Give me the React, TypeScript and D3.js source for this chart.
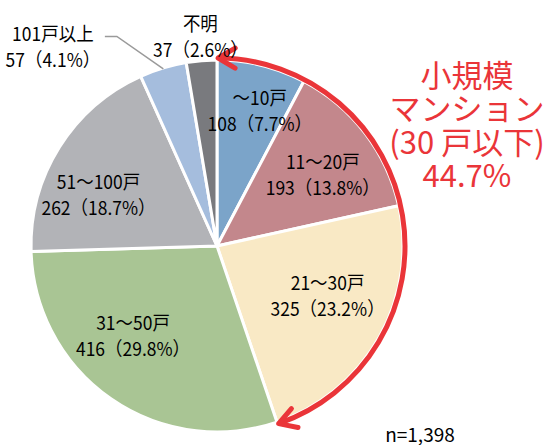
import * as d3 from "d3";
import React from "react";

// 住戸規模別の内訳 (n=1,398)
const categories = ["～10戸", "11～20戸", "21～30戸", "31～50戸", "51～100戸", "101戸以上", "不明"];
const counts = [108, 193, 325, 416, 262, 57, 37];
const shares = ["7.7", "13.8", "23.2", "29.8", "18.7", "4.1", "2.6"];
const palette = ["#7ba4c9", "#c3878c", "#f9e9c5", "#a9c594", "#b2b3b7", "#a5bddd", "#797a7e"];
const calloutLines = ["小規模", "マンション", "(30 戸以下)", "44.7%"];
const sampleNote = "n=1,398";
const smallCount = 3; // 30戸以下 = 最初の3区分

const W = 551;
const H = 445;
const cx = 217;
const cy = 246;
const R = 186;
const labelR = 128;
// label nudges relative to the centroid (dx, dy)
const labelShift: [number, number][] = [
  [12, -12],
  [4, 5],
  [-1, -14],
  [-11, -16],
  [-10, 16],
  [-127, -78],
  [-6, -83],
];

const RED = "#ea3539";
const FONT = "'Noto Sans CJK JP', 'Noto Sans', sans-serif";

export default function App() {
  const arcs = d3.pie<number>().sort(null).value((d) => d)(counts);
  const arcGen = d3.arc<d3.PieArcDatum<number>>().innerRadius(0).outerRadius(R);

  const polar = (a: number, r: number): [number, number] => [Math.sin(a) * r, -Math.cos(a) * r];
  const mid = (d: d3.PieArcDatum<number>) => (d.startAngle + d.endAngle) / 2;
  const labelAt = (i: number): [number, number] => {
    const [x0, y0] = polar(mid(arcs[i]), labelR);
    return [x0 + labelShift[i][0], y0 + labelShift[i][1]];
  };

  // red arrow arc around the small-mansion slices
  const a0 = arcs[0].startAngle + 0.006;
  const a1 = arcs[smallCount - 1].endAngle - 0.006;
  const rr = 188;
  const p = d3.path();
  const [sx, sy] = polar(a0, rr);
  p.moveTo(sx, sy);
  p.arc(0, 0, rr, a0 - Math.PI / 2, a1 - Math.PI / 2);

  // leader line for 101戸以上
  const [ex, ey] = polar(mid(arcs[5]), R - 1);
  const [lx, ly] = labelAt(5);
  const elbowX = lx + 64;
  const elbowY = ly - 9;

  return (
    <svg
      width={W}
      height={H}
      style={{ position: "absolute", left: 0, top: 0, background: "#fff" }}
      fontFamily={FONT}
    >
      <defs>
        <marker
          id="chev"
          markerUnits="userSpaceOnUse"
          viewBox="-24 -14 30 28"
          markerWidth={30}
          markerHeight={28}
          refX={0}
          refY={0}
          orient="auto-start-reverse"
        >
          <path d="M-17,-10 L0,0 L-17,10" fill="none" stroke={RED} strokeWidth={5} strokeLinejoin="round" strokeLinecap="round" />
        </marker>
      </defs>
      <g transform={`translate(${cx},${cy})`}>
        {arcs.map((d, i) => (
          <path key={i} d={arcGen(d) || ""} fill={palette[i]} stroke="#fff" strokeWidth={3} strokeLinejoin="round" />
        ))}
        <path
          d={p.toString()}
          fill="none"
          stroke={RED}
          strokeWidth={5}
          markerStart="url(#chev)"
          markerEnd="url(#chev)"
        />
        <polyline
          points={`${ex},${ey} ${elbowX},${elbowY} ${elbowX - 12},${elbowY}`}
          fill="none"
          stroke="#9a9a9a"
          strokeWidth={1.5}
        />
        {arcs.map((d, i) => {
          const [x, y] = labelAt(i);
          return (
            <g key={i} transform={`translate(${x},${y})`} fontSize={19} fill="#000" textAnchor="middle">
              <text y={-13} dominantBaseline="central" transform="scale(0.92,1)">
                {categories[i]}
              </text>
              <text y={13} dominantBaseline="central" transform="scale(0.92,1)">
                {`${counts[i]}（${shares[i]}%）`}
              </text>
            </g>
          );
        })}
      </g>
      <g fill={RED} textAnchor="middle" fontSize={31}>
        {calloutLines.map((t, i) => (
          <text key={i} x={467} y={73 + i * 33.5} dominantBaseline="central">
            {t}
          </text>
        ))}
      </g>
      <text x={420} y={433} fontSize={19} fill="#000" textAnchor="middle" dominantBaseline="central">
        {sampleNote}
      </text>
    </svg>
  );
}
